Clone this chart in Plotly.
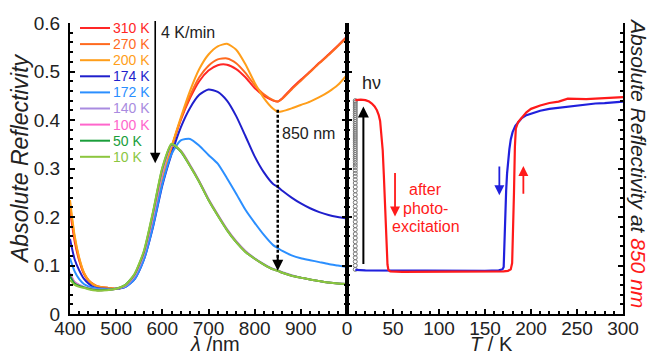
import plotly.graph_objects as go

# ---------------- data ----------------
wavelength = [400, 410, 420, 430, 440, 450, 460, 480, 500, 520, 540, 560, 580, 600, 620, 640, 660, 680,
              700, 720, 740, 760, 780, 800, 820, 840, 850, 860, 880, 900, 920, 940, 960, 980, 1000]

r310 = [0.215, 0.150, 0.110, 0.083, 0.069, 0.061, 0.057, 0.054, 0.052, 0.058, 0.076, 0.118, 0.190, 0.272,
        0.342, 0.400, 0.445, 0.480, 0.502, 0.513, 0.514, 0.505, 0.488, 0.466, 0.450, 0.440, 0.438, 0.445,
        0.465, 0.483, 0.500, 0.518, 0.535, 0.553, 0.572]
r270 = [0.225, 0.158, 0.114, 0.085, 0.070, 0.062, 0.057, 0.054, 0.052, 0.058, 0.077, 0.120, 0.192, 0.274,
        0.343, 0.402, 0.450, 0.488, 0.512, 0.525, 0.527, 0.517, 0.497, 0.472, 0.453, 0.441, 0.438, 0.444,
        0.463, 0.481, 0.499, 0.517, 0.534, 0.552, 0.570]
r200 = [0.235, 0.162, 0.116, 0.086, 0.070, 0.061, 0.057, 0.054, 0.052, 0.058, 0.078, 0.122, 0.194, 0.278,
        0.345, 0.405, 0.460, 0.505, 0.535, 0.552, 0.557, 0.545, 0.515, 0.477, 0.445, 0.423, 0.417, 0.418,
        0.424, 0.431, 0.438, 0.447, 0.458, 0.472, 0.493]
r174 = [0.155, 0.113, 0.090, 0.073, 0.063, 0.056, 0.053, 0.052, 0.052, 0.056, 0.072, 0.112, 0.180, 0.265,
        0.330, 0.385, 0.425, 0.452, 0.463, 0.458, 0.440, 0.408, 0.367, 0.325, 0.292, 0.268, 0.262, 0.254,
        0.240, 0.228, 0.218, 0.210, 0.204, 0.200, 0.197]
r172 = [0.115, 0.088, 0.072, 0.062, 0.057, 0.054, 0.052, 0.051, 0.052, 0.056, 0.072, 0.112, 0.182, 0.268,
        0.330, 0.358, 0.361, 0.347, 0.328, 0.310, 0.280, 0.248, 0.215, 0.188, 0.163, 0.142, 0.136, 0.130,
        0.121, 0.115, 0.111, 0.107, 0.103, 0.100, 0.097]
r140 = [0.085, 0.066, 0.060, 0.056, 0.053, 0.051, 0.050, 0.050, 0.052, 0.058, 0.078, 0.122, 0.200, 0.290,
        0.348, 0.337, 0.307, 0.274, 0.237, 0.205, 0.175, 0.150, 0.130, 0.115, 0.103, 0.093, 0.090, 0.086,
        0.080, 0.075, 0.071, 0.068, 0.065, 0.063, 0.062]
r100 = [0.082, 0.065, 0.059, 0.055, 0.052, 0.050, 0.049, 0.050, 0.052, 0.059, 0.080, 0.125, 0.205, 0.295,
        0.349, 0.336, 0.306, 0.273, 0.236, 0.204, 0.174, 0.149, 0.129, 0.114, 0.102, 0.092, 0.089, 0.085,
        0.079, 0.075, 0.071, 0.068, 0.065, 0.063, 0.062]
r50 = [0.078, 0.063, 0.058, 0.055, 0.052, 0.050, 0.049, 0.050, 0.052, 0.060, 0.082, 0.128, 0.210, 0.300,
       0.350, 0.335, 0.305, 0.272, 0.235, 0.203, 0.173, 0.148, 0.128, 0.114, 0.102, 0.092, 0.089, 0.085,
       0.079, 0.075, 0.071, 0.068, 0.065, 0.063, 0.062]
r10 = [0.070, 0.060, 0.056, 0.054, 0.051, 0.049, 0.048, 0.049, 0.052, 0.060, 0.083, 0.130, 0.212, 0.302,
       0.351, 0.336, 0.305, 0.272, 0.235, 0.203, 0.173, 0.148, 0.128, 0.114, 0.102, 0.092, 0.089, 0.085,
       0.079, 0.075, 0.071, 0.068, 0.065, 0.063, 0.062]

series_names = ["310 K", "270 K", "200 K", "174 K", "172 K", "140 K", "100 K", "50 K", "10 K"]
series_values = [r310, r270, r200, r174, r172, r140, r100, r50, r10]
series_colors = ["#ff2626", "#ff6a1f", "#ff9e1a", "#1f1fcc", "#2b8fff", "#a98be0", "#ff66cc", "#1a9e3a", "#8cc63f"]

# T-dependence of reflectivity at 850 nm
cool_T = [300, 290, 280, 270, 260, 250, 240, 230, 220, 210, 200, 195, 190, 186, 183, 180, 178, 176.5, 175, 174,
          173, 172.3, 171.6, 171, 170.3, 169, 165, 150, 120, 90, 60, 40, 20, 9]
cool_R = [0.438, 0.436, 0.435, 0.434, 0.432, 0.430, 0.428, 0.426, 0.423, 0.419, 0.414, 0.410, 0.404, 0.396,
          0.388, 0.375, 0.360, 0.340, 0.315, 0.290, 0.255, 0.200, 0.150, 0.115, 0.097, 0.092, 0.090, 0.089,
          0.089, 0.089, 0.089, 0.090, 0.090, 0.091]
warm_T = [9, 15, 20, 24, 27, 30, 32.5, 34.5, 36, 37.5, 38.8, 40, 41.3, 42.2, 43.1, 44, 45, 47, 60, 80,
          100, 120, 140, 160, 170, 175, 178, 179.5, 180.5, 181.5, 182.5, 183.5, 186, 190, 195, 200, 210, 220,
          230, 240, 250, 260, 270, 280, 290, 300]
warm_R = [0.441, 0.442, 0.441, 0.438, 0.434, 0.428, 0.420, 0.410, 0.398, 0.372, 0.338, 0.288, 0.235, 0.182,
          0.132, 0.102, 0.091, 0.088, 0.087, 0.087, 0.087, 0.087, 0.087, 0.087, 0.088, 0.089, 0.092, 0.105,
          0.160, 0.250, 0.345, 0.382, 0.396, 0.405, 0.416, 0.423, 0.430, 0.435, 0.438, 0.444, 0.443, 0.443,
          0.444, 0.445, 0.446, 0.447]
photo_R = [0.092, 0.100, 0.108, 0.116, 0.124, 0.132, 0.140, 0.149, 0.157, 0.165, 0.174, 0.182, 0.190, 0.198,
           0.206, 0.214, 0.222, 0.230, 0.238, 0.246, 0.254, 0.262, 0.270, 0.277, 0.284, 0.290, 0.296, 0.302,
           0.307, 0.312, 0.317, 0.321, 0.325, 0.329, 0.333, 0.337, 0.341, 0.345, 0.349, 0.353, 0.357, 0.361,
           0.365, 0.369, 0.373, 0.377, 0.381, 0.385, 0.389, 0.393, 0.397, 0.401, 0.405, 0.409, 0.413, 0.417,
           0.421, 0.425, 0.429, 0.433, 0.437, 0.440]
photo_T = [9] * len(photo_R)

x_ticks_left = [400, 500, 600, 700, 800, 900]

# ---------------- figure ----------------
W, H = 651, 357
ML, MR, MT, MB = 70, 28, 23, 43
PW, PH = W - ML - MR, H - MT - MB
split = (347 - ML) / PW
FONT = "Liberation Sans, Arial, Helvetica, sans-serif"


def px(xp):
    return (xp - ML) / PW


def py(yp):
    return (MT + PH - yp) / PH


fig = go.Figure()

for name, vals, col in zip(series_names, series_values, series_colors):
    fig.add_trace(go.Scatter(x=wavelength, y=vals, mode="lines", name=name,
                             line=dict(color=col, width=2, shape="spline", smoothing=0.6),
                             xaxis="x", yaxis="y", showlegend=False))

fig.add_trace(go.Scatter(x=photo_T, y=photo_R, mode="markers", xaxis="x2", yaxis="y2",
                         marker=dict(symbol="circle-open", size=4, color="#777777", line=dict(width=1)),
                         showlegend=False))
fig.add_trace(go.Scatter(x=cool_T, y=cool_R, mode="lines", xaxis="x2", yaxis="y2",
                         line=dict(color="#2020dd", width=2.2), showlegend=False))
fig.add_trace(go.Scatter(x=warm_T, y=warm_R, mode="lines", xaxis="x2", yaxis="y2",
                         line=dict(color="#ff1a1a", width=2.2), showlegend=False))

axis_common = dict(showline=True, linecolor="black", linewidth=2, ticks="inside", ticklen=5,
                   tickwidth=1.5, tickcolor="black", showgrid=False, zeroline=False, automargin=False,
                   tickfont=dict(family=FONT, size=19, color="#222"))

fig.update_layout(
    width=W, height=H, margin=dict(l=ML, r=MR, t=MT, b=MB, autoexpand=False),
    paper_bgcolor="white", plot_bgcolor="white", showlegend=False,
    font=dict(family=FONT, color="#222"),
    xaxis=dict(domain=[0, split], range=[400, 1000], tickvals=x_ticks_left, anchor="y",
               minor=dict(tick0=400, dtick=20, ticks="inside", ticklen=3, tickcolor="black"),
               ticklabelstandoff=-4, **axis_common),
    yaxis=dict(range=[0, 0.6], dtick=0.1, anchor="x", mirror="ticks", ticklabelstandoff=4,
               minor=dict(dtick=0.02, ticks="inside", ticklen=3, tickcolor="black"), **axis_common),
    xaxis2=dict(domain=[split, 1], range=[0, 300], dtick=50, anchor="y2", ticklabelstandoff=-4,
                minor=dict(dtick=10, ticks="inside", ticklen=3, tickcolor="black"), **axis_common),
    yaxis2=dict(range=[0, 0.6], dtick=0.1, anchor="x2", mirror="ticks", showticklabels=False,
                minor=dict(dtick=0.02, ticks="inside", ticklen=3, tickcolor="black"), **axis_common),
)

ann = []
shapes = []


def label(xref, yref, x, y, text, size, color="#222", angle=0, xanchor="center"):
    ann.append(dict(xref=xref, yref=yref, x=x, y=y, text=text, showarrow=False, textangle=angle,
                    xanchor=xanchor, yanchor="middle", font=dict(family=FONT, size=size, color=color)))


def arrow(xref, yref, x, y0, y1, color, width=1.8, size=1.1):
    ann.append(dict(xref=xref, yref=yref, x=x, y=y1, ax=x, ay=y0, axref=xref, ayref=yref, text="",
                    showarrow=True, arrowhead=2, arrowsize=size, arrowwidth=width, arrowcolor=color))


# manual legend
for i, (name, col) in enumerate(zip(series_names, series_colors)):
    yrow = 28 + 16.1 * i
    shapes.append(dict(type="line", xref="paper", yref="paper", x0=px(80), x1=px(110),
                       y0=py(yrow), y1=py(yrow), line=dict(color=col, width=2)))
    label("paper", "paper", px(111), py(yrow), name, 14, col, xanchor="left")

# axis titles
label("paper", "paper", px(20), py(159), "<i>Absolute Reflectivity</i>", 23, angle=-90)
label("paper", "paper", px(639), py(163),
      "<i>Absolute Reflectivity at <span style='color:#ff1a1a'>850 nm</span></i>", 21, angle=90)
label("paper", "paper", px(215), py(344), "<i>λ</i> /nm", 20)
label("paper", "paper", px(491), py(344), "<i>T</i> / K", 20)

# left panel annotations
arrow("x", "y", 584.6, 0.607, 0.311, "black", width=1.6, size=1.3)
label("x", "y", 656, 0.581, "4 K/min", 16)
shapes.append(dict(type="line", xref="x", yref="y", x0=850, x1=850, y0=0.421, y1=0.11,
                   line=dict(color="black", width=2.5, dash="3px,2px")))
arrow("x", "y", 850, 0.125, 0.089, "black", width=2)
label("x", "y", 916, 0.373, "850 nm", 16)

# right panel annotations
label("x2", "y2", 27, 0.476, "hν", 18)
arrow("x2", "y2", 17.8, 0.100, 0.428, "black", width=2)
arrow("x2", "y2", 52.2, 0.294, 0.201, "#ff1a1a")
arrow("x2", "y2", 191.7, 0.245, 0.305, "#ff1a1a")
arrow("x2", "y2", 165.6, 0.307, 0.245, "#2020dd")
for txt, yv in zip(["after", "photo-", "excitation"], [0.2557, 0.218, 0.180]):
    label("x2", "y2", 85.5, yv, txt, 16, "#ff1a1a")

fig.update_layout(annotations=ann, shapes=shapes)
fig.write_html("out.html", config={"displayModeBar": False},
               post_script="document.body.style.margin='0';document.body.style.overflow='hidden';")
